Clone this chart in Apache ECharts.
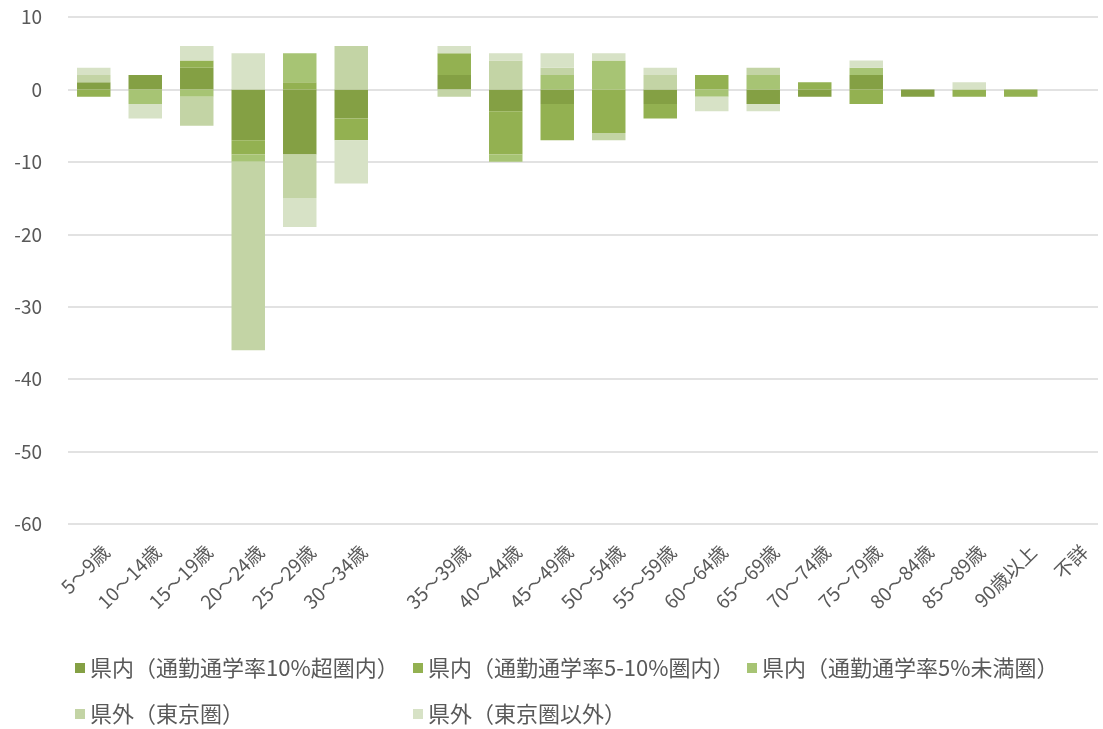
<!DOCTYPE html>
<html>
<head>
<meta charset="utf-8">
<script src="https://cdn.jsdelivr.net/npm/echarts@6/dist/echarts.min.js"></script>
<style>
html,body{margin:0;padding:0;background:#fff;}
#c{width:1103px;height:729px;}
</style>
</head>
<body>
<div id="c"></div>
<script>
const categories = ["5～9歳","10～14歳","15～19歳","20～24歳","25～29歳","30～34歳","","35～39歳","40～44歳","45～49歳","50～54歳","55～59歳","60～64歳","65～69歳","70～74歳","75～79歳","80～84歳","85～89歳","90歳以上","不詳"];
const seriesNames = ["県内（通勤通学率10%超圏内）","県内（通勤通学率5-10%圏内）","県内（通勤通学率5%未満圏）","県外（東京圏）","県外（東京圏以外）"];
const inner10 = [1, 2, 3, -7, -9, -4, null, 2, -3, -2, 0, -2, 0, -2, -1, 2, -1, 0, 0, 0];
const inner5to10 = [-1, 0, 1, -2, 1, -3, null, 3, -6, -5, -6, -2, 2, 0, 1, -2, 0, -1, -1, 0];
const inner5 = [0, -2, -1, -1, 4, 0, null, 0, -1, 2, 4, 0, -1, 2, 0, 1, 0, 0, 0, 0];
const outerTokyo = [1, 0, -4, -26, -6, 6, null, -1, 4, 1, -1, 2, 0, 1, 0, 0, 0, 0, 0, 0];
const outerOther = [1, -2, 2, 5, -4, -6, null, 1, 1, 2, 1, 1, -2, -1, 0, 1, 0, 1, 0, 0];
const yTicks = {min: -60, max: 10, interval: 10};

const colors = ["#84A044", "#93B151", "#A7C474", "#C3D4A5", "#D7E2C6"];
const dataSets = [inner10, inner5to10, inner5, outerTokyo, outerOther];
const font = '"Noto Sans CJK JP", "Noto Sans", sans-serif';
const legendSlots = [[75, 657], [413, 657], [747, 657], [75, 703], [413, 703]];

const chart = echarts.init(document.getElementById('c'));
chart.setOption({
  animation: false,
  color: colors,
  grid: {left: 68, right: 5, top: 17, bottom: 205},
  legend: seriesNames.map((n, i) => ({
    data: [n], left: legendSlots[i][0], top: legendSlots[i][1],
    icon: 'rect', itemWidth: 10, itemHeight: 10, padding: 0,
    selectedMode: false,
    textStyle: {fontFamily: font, fontSize: 22, color: '#595959'}
  })),
  xAxis: {
    type: 'category',
    data: categories,
    axisLine: {show: false},
    axisTick: {show: false},
    axisLabel: {rotate: 45, interval: 0, margin: 12, verticalAlign: 'top', padding: [8, 0, 0, 0], fontFamily: font, fontSize: 19, color: '#595959'}
  },
  yAxis: {
    type: 'value',
    min: yTicks.min, max: yTicks.max, interval: yTicks.interval,
    axisLine: {show: false},
    axisTick: {show: false},
    axisLabel: {margin: 26, fontFamily: font, fontSize: 19, color: '#595959'},
    splitLine: {lineStyle: {color: '#D9D9D9', width: 1.5}}
  },
  series: dataSets.map((d, i) => ({
    name: seriesNames[i],
    type: 'bar',
    stack: 'total',
    data: d,
    barWidth: '65%',
    itemStyle: {color: colors[i]}
  }))
});
</script>
</body>
</html>
